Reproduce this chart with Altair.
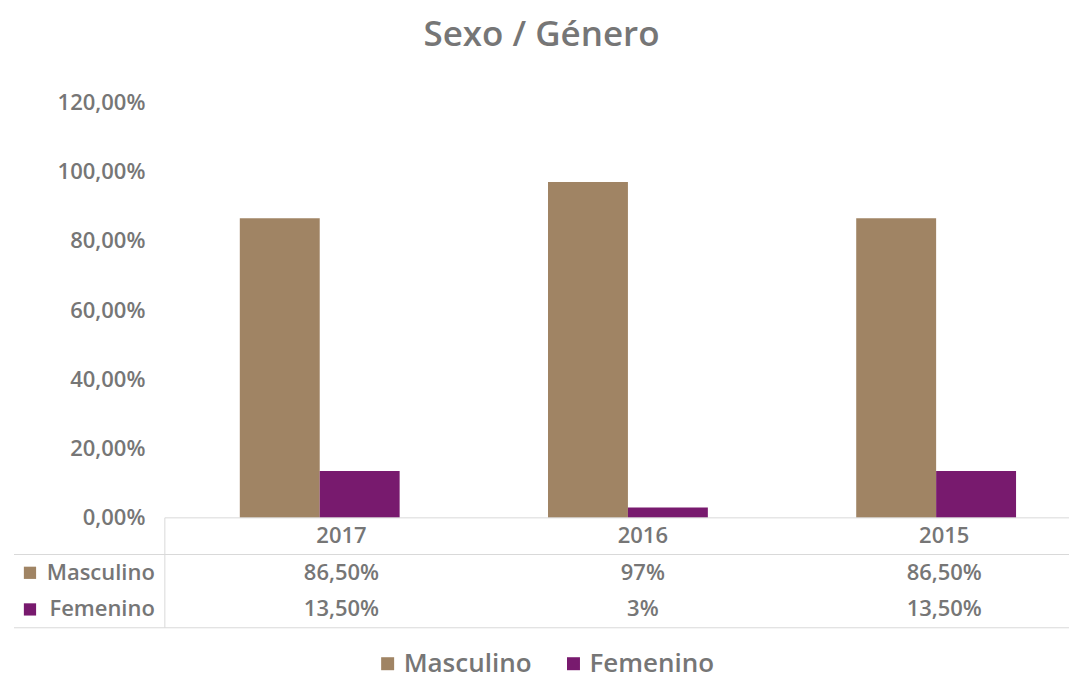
import altair as alt
import pandas as pd

years = ["2017", "2016", "2015"]
series = ["Masculino", "Femenino"]
masculino = [0.865, 0.97, 0.865]
femenino = [0.135, 0.03, 0.135]
masc_labels = ["86,50%", "97%", "86,50%"]
fem_labels = ["13,50%", "3%", "13,50%"]
colors = ["#A08464", "#781A6E"]
y_ticks = [0, 0.2, 0.4, 0.6, 0.8, 1.0, 1.2]

FONT = "Open Sans"
GREY = "#767676"
LINE = "#D9D9D9"
W = 905
H = 416
TH = 110
FS = 22

rows = []
for i, yr in enumerate(years):
    rows.append(dict(year=yr, sexo="Masculino", valor=masculino[i]))
    rows.append(dict(year=yr, sexo="Femenino", valor=femenino[i]))
df = pd.DataFrame(rows)

trows = []
for i, yr in enumerate(years):
    trows.append(dict(year=yr, row="hdr", txt=yr))
    trows.append(dict(year=yr, row="Masculino", txt=masc_labels[i]))
    trows.append(dict(year=yr, row="Femenino", txt=fem_labels[i]))
tdf = pd.DataFrame(trows)
ldf = pd.DataFrame({"sexo": series, "row": series})
one = pd.DataFrame({"k": [0]})

row_dom = ["hdr", "Masculino", "Femenino"]
xscale = alt.Scale(domain=years, paddingInner=0.4814, paddingOuter=0.2075, align=0.586)
cscale = alt.Scale(domain=series, range=colors)
yrow = alt.Y("row:N", scale=alt.Scale(domain=row_dom, paddingInner=0, paddingOuter=0), axis=None)

bars = alt.Chart(df).mark_bar().encode(
    x=alt.X("year:N", scale=xscale, sort=years, axis=None),
    xOffset=alt.XOffset("sexo:N", sort=series, scale=alt.Scale(domain=series, paddingInner=0, paddingOuter=0)),
    y=alt.Y("valor:Q", scale=alt.Scale(domain=[0, 1.2]),
            axis=alt.Axis(values=y_ticks, labelExpr="replace(format(datum.value, '.2%'), '.', ',')",
                          grid=False, domain=False, ticks=False, title=None,
                          labelFontSize=FS, labelColor=GREY, labelFont=FONT, labelFontWeight=600,
                          labelPadding=20)),
    color=alt.Color("sexo:N", scale=cscale, sort=series,
                    legend=alt.Legend(title=None, orient="none", direction="horizontal",
                                      legendX=210, legendY=549, symbolType="square", symbolSize=169,
                                      symbolStrokeWidth=0, labelFontSize=26, labelColor=GREY,
                                      labelFont=FONT, labelFontWeight=600, columnPadding=28,
                                      labelOffset=3)),
).properties(width=W, height=H)

cells = alt.Chart(tdf).mark_text(fontSize=FS, color=GREY, font=FONT, fontWeight=600).encode(
    x=alt.X("year:N", scale=xscale, sort=years, axis=None),
    y=yrow,
    text="txt:N",
)

row_labels = alt.Chart(ldf).mark_text(fontSize=FS, color=GREY, font=FONT, fontWeight=600, align="right").encode(
    x=alt.value(-10),
    y=yrow,
    text="sexo:N",
)

squares = alt.Chart(ldf).mark_square(size=150, opacity=1).encode(
    x=alt.value(-135),
    y=yrow,
    color=alt.Color("sexo:N", scale=cscale, sort=series, legend=None),
)

rule_top = alt.Chart(one).mark_rule(color=LINE, strokeWidth=1).encode(
    x=alt.value(0), x2=alt.value(W), y=alt.value(0)
)
rule_mid = alt.Chart(one).mark_rule(color=LINE, strokeWidth=1).encode(
    x=alt.value(-151), x2=alt.value(W), y=alt.value(TH / 3)
)
rule_bot = alt.Chart(one).mark_rule(color=LINE, strokeWidth=1).encode(
    x=alt.value(-151), x2=alt.value(W), y=alt.value(TH)
)
rule_left = alt.Chart(one).mark_rule(color=LINE, strokeWidth=1).encode(
    x=alt.value(0), y=alt.value(0), y2=alt.value(TH)
)

table = alt.layer(rule_top, rule_mid, rule_bot, rule_left, squares, row_labels, cells).properties(width=W, height=TH)

chart = alt.vconcat(bars, table, spacing=0, bounds="flush").resolve_scale(color="shared").properties(
    title=alt.TitleParams("Sexo / Género", fontSize=35, color=GREY, font=FONT, fontWeight=600,
                          anchor="middle", offset=38),
    padding={"left": 5, "top": 10, "right": 0, "bottom": 40},
).configure(font=FONT, view=alt.ViewConfig(stroke=None))

chart.save("out.html", embed_options={"renderer": "svg", "actions": False})
